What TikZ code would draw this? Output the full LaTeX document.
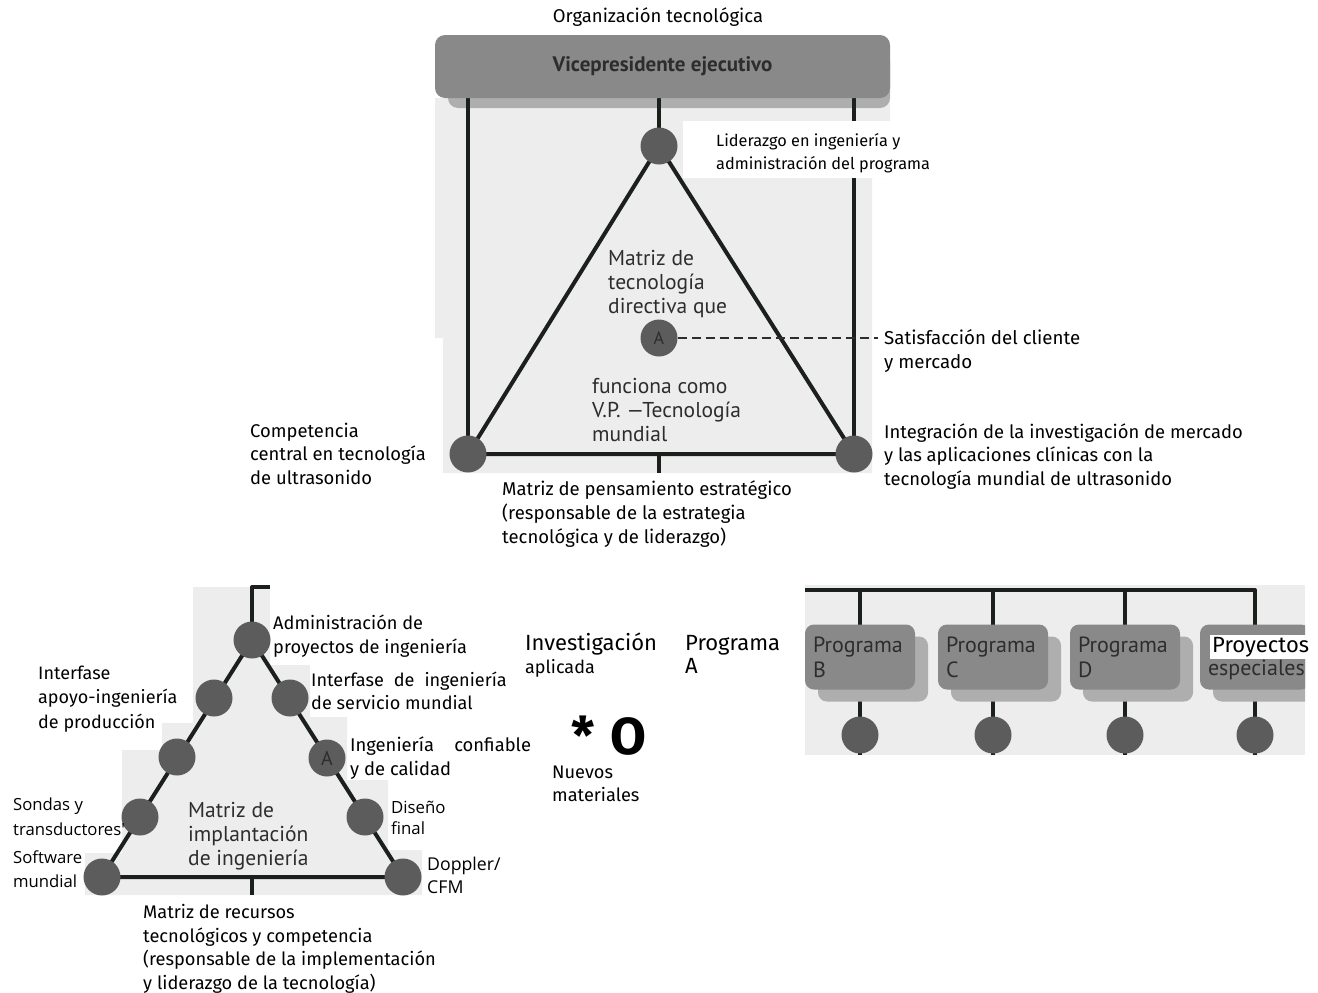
\documentclass[tikz,border=0pt]{standalone}
\usepackage{fontspec}
\setmainfont{Fira Sans}
\newfontfamily\scanfont{PT Sans}
\newfontfamily\capfont{Open Sans}
\usetikzlibrary{shadows}
\definecolor{panelgray}{RGB}{237,237,237}
\definecolor{boxgray}{RGB}{137,137,137}
\definecolor{boxshade}{RGB}{174,174,174}
\definecolor{dotgray}{RGB}{92,92,92}
\definecolor{wirecol}{RGB}{28,32,28}
\definecolor{scanink}{RGB}{45,45,45}
\pgfdeclarelayer{back}
\pgfdeclarelayer{mid}
\pgfsetlayers{back,mid,main}

\begin{document}
\begin{tikzpicture}[x=1pt,y=-1pt,
  wire/.style={draw=wirecol, line width=4pt, line join=round},
  dot/.style={circle, fill=dotgray, minimum size=37pt, inner sep=0pt},
  % multi-line labels: the base anchor sits on the last line
  lbl/.style={anchor=base west, inner sep=0pt, align=left, font=\fontsize{18.4}{23.5}\selectfont},
  scan/.style={anchor=base west, inner sep=0pt, align=left, text=scanink, font=\scanfont\fontsize{21.5}{24}\selectfont},
  captxt/.style={anchor=base west, inner sep=0pt, align=left, font=\capfont\fontsize{16.7}{25}\selectfont},
  progbox/.style={rounded corners=9pt, fill=boxgray, minimum width=110pt, minimum height=65pt,
    inner sep=0pt, text width=94pt, align=left, text=scanink,
    font=\scanfont\fontsize{22}{25}\selectfont,
    drop shadow={shadow xshift=13pt, shadow yshift=-12pt, fill=boxshade, opacity=1}},
  dashwire/.style={draw=scanink, line width=2pt, dash pattern=on 9pt off 5pt},
]
\useasboundingbox (0,0) rectangle (1318,993);

% ---------------- technology organisation (top) ----------------
\begin{pgfonlayer}{back}
  \fill[panelgray] (435,98) -- (890,98) -- (890,178) -- (872,178) -- (872,473)
    -- (443,473) -- (443,338) -- (435,338) -- cycle;
  \fill[boxshade, rounded corners=10pt] (448,50) rectangle (890,108);
\end{pgfonlayer}

\node[anchor=base, inner sep=0pt, font=\fontsize{18.5}{22}\selectfont] (title) at (658,23) {Organización tecnológica};

\node[fill=boxgray, rounded corners=10pt, minimum width=455pt, minimum height=63pt,
      inner sep=0pt, text=scanink, font=\scanfont\bfseries\fontsize{21}{24}\selectfont]
  (vp) at (662.5,66.5) {Vicepresidente ejecutivo};

\node[dot] (tt) at (659,146) {};
\node[dot] (tl) at (468,454) {};
\node[dot] (tr) at (854,454) {};
\node[dot, text=scanink, font=\scanfont\fontsize{18}{20}\selectfont] (ta) at (659,338) {A};
\coordinate (tstub) at (659,473);
\coordinate (satend) at (878,338);

\begin{pgfonlayer}{mid}
  \draw[wire] (vp.south -| tl) -- (tl.center);
  \draw[wire] (vp.south -| tt) -- (tt.center);
  \draw[wire] (vp.south -| tr) -- (tr.center);
  \draw[wire] (tt.center) -- (tl.center) -- (tr.center) -- cycle;
  \draw[wire] (tl.center -| tstub) -- (tstub);
  \draw[dashwire] (ta.east) -- (satend);
\end{pgfonlayer}

\node[scan] (mtd) at (608,313) {Matriz de\\tecnología\\directiva que};
\node[scan] (mfc) at (592,441) {funciona como\\V.P. —Tecnología\\mundial};

\fill[white] (683,121) rectangle (935,178);
\node[lbl, font=\fontsize{16.3}{23}\selectfont] (lid) at (716,169) {Liderazgo en ingeniería y\\administración del programa};
\node[lbl, font=\fontsize{18.7}{24}\selectfont] (sat) at (884,368) {Satisfacción del cliente\\y mercado};
\node[lbl] (comp) at (250,484) {Competencia\\central en tecnología\\de ultrasonido};
\node[lbl] (integ) at (884,485) {Integración de la investigación de mercado\\y las aplicaciones clínicas con la\\tecnología mundial de ultrasonido};
\node[lbl, font=\fontsize{18.5}{24}\selectfont] (mpe) at (502,543) {Matriz de pensamiento estratégico\\(responsable de la estrategia\\tecnológica y de liderazgo)};

% ---------------- engineering implementation matrix (bottom left) ----------------
\begin{pgfonlayer}{back}
  \fill[panelgray] (193,587) -- (270,587) -- (270,665) -- (310,665) -- (310,717)
    -- (347,717) -- (347,780) -- (388,780) -- (388,850) -- (422,850) -- (422,895)
    -- (85,895) -- (85,853) -- (122,853) -- (122,750) -- (162,750) -- (162,723)
    -- (193,723) -- cycle;
\end{pgfonlayer}

\node[dot] (la) at (252,640) {};
\node[dot] (l1) at (214,698) {};
\node[dot] (l2) at (177,757) {};
\node[dot] (l3) at (140,817) {};
\node[dot] (lb) at (102,877) {};
\node[dot] (r1) at (290,698) {};
\node[dot, text=scanink, font=\scanfont\fontsize{20}{20}\selectfont] (r2) at (327,758) {A};
\node[dot] (r3) at (365,817) {};
\node[dot] (rb) at (403,877) {};
\coordinate (ltop) at (252,587);
\coordinate (ltopr) at (270,587);
\coordinate (lstub) at (252,895);

\begin{pgfonlayer}{mid}
  \draw[wire] (la.center) -- (lb.center) -- (rb.center) -- cycle;
  \draw[wire] (la.center) -- (ltop) -- (ltopr);
  \draw[wire] (lb.center -| lstub) -- (lstub);
\end{pgfonlayer}

\node[scan] (mie) at (188,865) {Matriz de\\implantación\\de ingeniería};

\node[lbl, font=\fontsize{18.2}{24}\selectfont] (adm) at (273,653) {Administración de\\proyectos de ingeniería};
\node[lbl, font=\fontsize{18.1}{23}\selectfont] (isv) at (311,709) {Interfase\hspace{0.55em}de\hspace{0.55em}ingeniería\\de servicio mundial};
\node[lbl, font=\fontsize{18.4}{24}\selectfont] (icc) at (350,775) {Ingeniería\hspace{1.1em}confiable\\y de calidad};
\node[lbl, font=\fontsize{18}{24.5}\selectfont] (iap) at (38,728) {Interfase\\apoyo-ingeniería\\de producción};
\node[captxt, font=\capfont\fontsize{16.8}{21}\selectfont] (dis) at (391,834) {Diseño\\final};
\node[captxt, font=\capfont\fontsize{17.7}{23}\selectfont] (dop) at (427,893) {Doppler/\\CFM};
\node[captxt] (son) at (13,835) {Sondas y\\transductores'};
\node[captxt, font=\capfont\fontsize{16.7}{24}\selectfont] (sof) at (13,887) {Software\\mundial};
\node[lbl, font=\fontsize{18.25}{23.5}\selectfont] (mrt) at (143,989) {Matriz de recursos\\tecnológicos y competencia\\(responsable de la implementación\\y liderazgo de la tecnología)};

% ---------------- middle labels ----------------
\node[lbl, font=\fontsize{22}{23}\selectfont] (inv) at (525,673) {Investigación\\{\fontsize{18}{23}\selectfont aplicada}};
\node[lbl, font=\fontsize{22}{23}\selectfont] (pga) at (685,673) {Programa\\A};
\node[anchor=base west, inner sep=0pt, font=\bfseries\fontsize{52}{56}\selectfont] (nmark) at (571,754) {*\hspace{0.3em}O};
\node[lbl, font=\fontsize{18.2}{23}\selectfont] (nmat) at (552,801) {Nuevos\\materiales};

% ---------------- programme bus (right) ----------------
\coordinate (busL) at (805,590);
\coordinate (busR) at (1255,590);
\coordinate (busRend) at (1255,755);
\begin{scope}
  \clip (805,585) rectangle (1305,755);
  \fill[panelgray] (805,585) rectangle (1305,755);
  \draw[wire] (busL) -- (busR) -- (busRend);
  \foreach \px in {860,993,1125} {
    \draw[wire] (\px,590) -- (\px,755);
  }
  \node[progbox] (pb) at (860,657) {Programa\\B};
  \node[progbox] (pc) at (993,657) {Programa\\C};
  \node[progbox] (pd) at (1125,657) {Programa\\D};
  \node[progbox] (pe) at (1255,657) {\phantom{Programa}\\especiales};
  \node[dot] (cb) at (860,735) {};
  \node[dot] (cc) at (993,735) {};
  \node[dot] (cd) at (1125,735) {};
  \node[dot] (ce) at (1255,735) {};
\end{scope}
\node[fill=white, anchor=base west, inner sep=2pt, font=\fontsize{22}{24}\selectfont] (proy) at (1210,652) {Proyectos};

\end{tikzpicture}
\end{document}
